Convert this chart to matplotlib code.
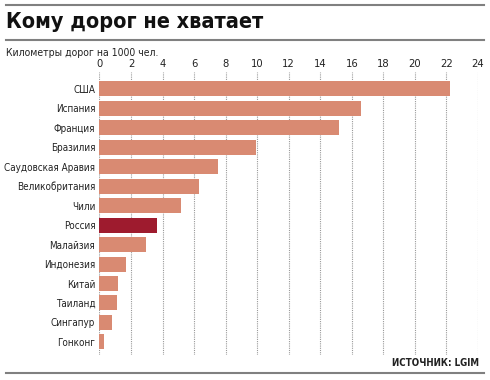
import matplotlib
matplotlib.use("Agg")
import matplotlib.pyplot as plt
import numpy as np

# data
countries = ["США", "Испания", "Франция", "Бразилия", "Саудовская Аравия",
             "Великобритания", "Чили", "Россия", "Малайзия", "Индонезия",
             "Китай", "Таиланд", "Сингапур", "Гонконг"]
km_per_1000 = [22.2, 16.6, 15.2, 9.9, 7.5, 6.3, 5.2, 3.65, 2.95, 1.7,
               1.2, 1.1, 0.8, 0.3]
xticks = list(range(0, 25, 2))
highlight = "Россия"

base_col = "#D98A72"
hi_col = "#9E1B2E"
lab = dict(family="DejaVu Sans", stretch="condensed")

fig = plt.figure(figsize=(4.9, 3.8), dpi=100)
# axes from y=72px to 355px
ax = fig.add_axes([0.203, 1 - 355 / 380, 0.7725, (355 - 72) / 380])

y = np.arange(len(countries))
colors = [hi_col if c == highlight else base_col for c in countries]
ax.barh(y, km_per_1000, height=0.77, color=colors, zorder=2)

ax.set_xlim(0, 24)
ax.set_ylim(13.67, -0.86)
ax.set_xticks(xticks)
ax.xaxis.tick_top()
ax.tick_params(axis="x", length=0, pad=2.5, colors="#222222")
ax.set_xticklabels([str(t) for t in xticks], fontsize=8, **lab)
ax.set_yticks(y)
ax.set_yticklabels(countries, fontsize=7.1, color="#222222", **lab)
ax.tick_params(axis="y", length=0, pad=3)
ax.grid(axis="x", linestyle=(0, (1, 1)), color="#999999", linewidth=0.8, zorder=0)
for s in ax.spines.values():
    s.set_visible(False)

# rules, title, notes
for yy in [5, 40, 373]:
    fig.add_artist(plt.Line2D([0.012, 0.988], [1 - yy / 380] * 2, color="#808080",
                              linewidth=1.5, transform=fig.transFigure))
fig.text(0.012, 1 - 22 / 380, "Кому дорог не хватает", fontsize=15.5,
         fontweight="bold", va="center", color="#111111", **lab)
fig.text(0.012, 1 - 53 / 380, "Километры дорог на 1000 чел.", fontsize=7.5,
         va="center", color="#222222", **lab)
fig.text(0.978, 1 - 363 / 380, "ИСТОЧНИК: LGIM", fontsize=7, fontweight="bold",
         va="center", ha="right", color="#222222", **lab)

fig.savefig("out.png", dpi=100)
